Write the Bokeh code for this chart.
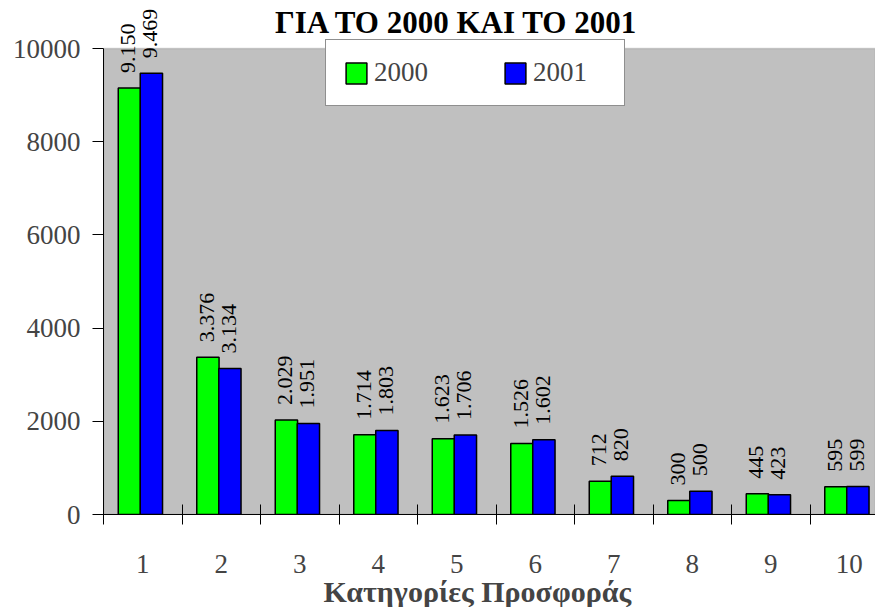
import math
from bokeh.plotting import figure
from bokeh.models import (ColumnDataSource, Range1d, FixedTicker, Label, Title,
                          Legend, LegendItem, BoxAnnotation)
from bokeh.transform import dodge
from bokeh.embed import file_html
from bokeh.resources import INLINE

categories = ["1", "2", "3", "4", "5", "6", "7", "8", "9", "10"]
v2000 = [9150, 3376, 2029, 1714, 1623, 1526, 712, 300, 445, 595]
v2001 = [9469, 3134, 1951, 1803, 1706, 1602, 820, 500, 423, 599]
y_ticks = [0, 2000, 4000, 6000, 8000, 10000]
title_text = "ΓΙΑ ΤΟ 2000 ΚΑΙ ΤΟ 2001"
xlabel_text = "Κατηγορίες Προσφοράς"

def fmt(v):
    return f"{v:,}".replace(",", ".")

idx = list(range(1, len(categories) + 1))
src = ColumnDataSource(dict(x=idx, v2000=v2000, v2001=v2001))

FONT = "Liberation Serif"
W, H = 875, 607
LEFT, TOP, BOTTOM = 103, 2, 93
frame_w = W - LEFT
frame_h = H - TOP - BOTTOM
cat_px = 78.5
plot_h_px = 466.0            # pixel height of the 0..10000 band
y_max = y_ticks[-1]
px_per_y = plot_h_px / y_max
OFF_A, OFF_B, BW = -0.17, 0.11, 0.284

def px2x(px):   # page x pixel -> data x
    return 0.5 + (px - LEFT) / cat_px

def py2y(py):   # page y pixel -> data y
    return (H - BOTTOM - py) / px_per_y

p = figure(width=W, height=H, output_backend="svg", toolbar_location=None,
           x_range=Range1d(0.5, px2x(W)), y_range=Range1d(0, frame_h / px_per_y),
           min_border_left=LEFT, min_border_right=0, min_border_top=TOP,
           min_border_bottom=BOTTOM)
p.background_fill_color = "white"
p.border_fill_color = "white"
p.outline_line_color = None
p.grid.visible = False

p.add_layout(BoxAnnotation(bottom=y_ticks[0], top=y_max, fill_color="#C0C0C0",
                           fill_alpha=1.0, line_color="#808080", line_width=1.5,
                           level="underlay"))

r1 = p.vbar(x=dodge("x", OFF_A, range=p.x_range), top="v2000", width=BW, source=src,
            fill_color="#00FF00", line_color="black", line_width=1.5)
r2 = p.vbar(x=dodge("x", OFF_B, range=p.x_range), top="v2001", width=BW, source=src,
            fill_color="#0000FF", line_color="black", line_width=1.5)

for off, vals in [(OFF_A, v2000), (OFF_B, v2001)]:
    for i, v in zip(idx, vals):
        p.add_layout(Label(x=i + off, y=v, text=fmt(v), angle=math.pi / 2,
                           text_align="left", text_baseline="middle",
                           y_offset=15, x_offset=-1, text_font=FONT,
                           text_font_size="22px", text_color="black"))

# chart title (inside the tall frame, above the plot band)
p.add_layout(Label(x=px2x(456.5), y=py2y(22), text=title_text, text_align="center",
                   text_baseline="middle", text_font=FONT, text_font_size="31px",
                   text_font_style="bold", text_color="black", level="overlay"))

# axes
xa = p.xaxis[0]
xa.ticker = FixedTicker(ticks=idx, minor_ticks=[i + 0.5 for i in [0] + idx])
xa.major_label_overrides = {i: c for i, c in zip(idx, categories)}
xa.major_tick_in = 0
xa.major_tick_out = 0
xa.minor_tick_in = 10
xa.minor_tick_out = 10
xa.minor_tick_line_color = "black"
xa.axis_line_color = "black"
xa.major_label_standoff = 30
xa.major_label_text_font = FONT
xa.major_label_text_font_size = "27px"

ya = p.yaxis[0]
ya.ticker = FixedTicker(ticks=y_ticks)
ya.bounds = (y_ticks[0], y_max)
ya.major_tick_in = 0
ya.major_tick_out = 11
ya.minor_tick_line_color = None
ya.major_tick_line_color = "black"
ya.axis_line_color = "black"
ya.major_label_standoff = 12
ya.major_label_text_font = FONT
ya.major_label_text_font_size = "27px"

p.add_layout(Title(text=xlabel_text, align="left", offset=220, text_font=FONT,
                   text_font_size="30px", text_font_style="bold", standoff=-5), "below")

legend = Legend(items=[LegendItem(label="2000", renderers=[r1]),
                       LegendItem(label="2001", renderers=[r2])],
                orientation="horizontal", location=(222, 408), margin=0, padding=17,
                spacing=54, glyph_width=26, glyph_height=26, label_standoff=5,
                label_width=74, label_text_font=FONT, label_text_font_size="27px",
                background_fill_color="white", background_fill_alpha=1.0,
                border_line_color="#202020", border_line_width=1.5)
p.add_layout(legend)

open("out.html", "w").write(file_html(p, INLINE))
